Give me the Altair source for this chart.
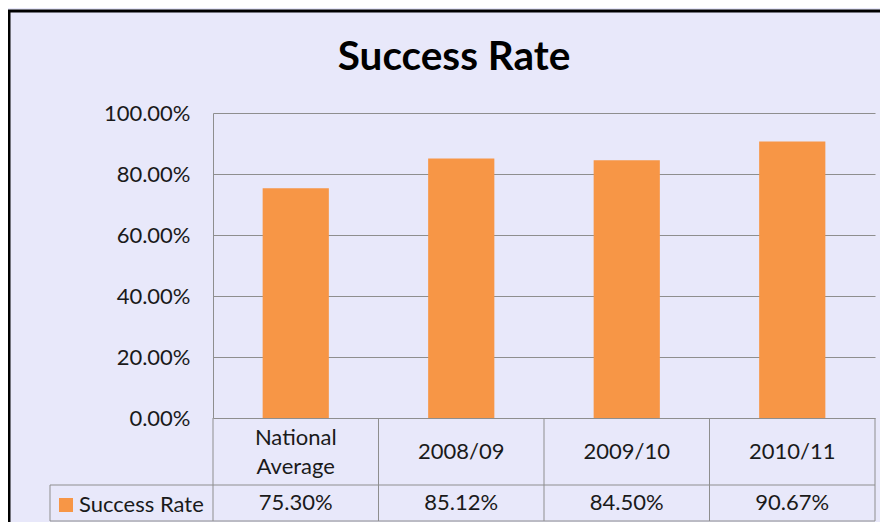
import altair as alt
import pandas as pd

# ---- data ----
categories = ["National\nAverage", "2008/09", "2009/10", "2010/11"]
success_rate = [0.7530, 0.8512, 0.8450, 0.9067]
series_name = "Success Rate"
y_ticks = [0.0, 0.2, 0.4, 0.6, 0.8, 1.0]
chart_title = "Success Rate"

df = pd.DataFrame({"category": categories, "value": success_rate, "series": series_name})
one = pd.DataFrame({"series": [series_name], "title": [chart_title]})

# ---- layout / style ----
W, H = 662, 305
HEADER_BOTTOM = H + 67
TABLE_BOTTOM = H + 103
LEFT_CELL = -163
BG = "#E8E8FA"
ORANGE = "#F79646"
GRID = "#8E8E8E"
FONT = "Lato"
FS = 22

x_scale = alt.Scale(domain=categories, paddingInner=0, paddingOuter=0)

x_enc = alt.X(
    "category:N", sort=categories, scale=x_scale,
    axis=alt.Axis(
        title=None, orient="bottom", ticks=False, domain=False, grid=False,
        labelExpr="split(datum.label, '\\n')", labelAngle=0,
        labelBaseline={
            "condition": {"test": "indexof(datum.value, '\\n') >= 0", "value": "middle"},
            "value": "line-top",
        },
        labelPadding=19, labelFontSize=FS,
        labelFont=FONT, labelColor="#1a1a1a", labelLineHeight=29,
    ),
)
y_enc = alt.Y(
    "value:Q", scale=alt.Scale(domain=[0, 1]),
    axis=alt.Axis(
        title=None, values=y_ticks, format=".2%", grid=True, gridColor=GRID,
        gridWidth=1, domain=True, domainColor=GRID, ticks=False,
        labelPadding=23, labelFontSize=FS, labelFont=FONT, labelColor="#1a1a1a",
    ),
)

bars = alt.Chart(df).mark_bar(width=alt.RelativeBandSize(0.4), color=ORANGE).encode(
    x=x_enc, y=y_enc,
    color=alt.Color(
        "series:N", scale=alt.Scale(range=[ORANGE]),
        legend=alt.Legend(
            title=None, orient="none", legendX=-158, legendY=H + 76,
            symbolType="square", symbolSize=196, symbolStrokeWidth=0,
            symbolFillColor=ORANGE, labelFontSize=FS, labelFont=FONT,
            labelColor="#1a1a1a", labelOffset=2,
        ),
    ),
)

values_row = alt.Chart(df).mark_text(font=FONT, fontSize=FS, color="#1a1a1a", baseline="middle").encode(
    x=alt.X("category:N", sort=categories, scale=x_scale, bandPosition=0.5),
    y=alt.value((HEADER_BOTTOM + TABLE_BOTTOM) / 2),
    text=alt.Text("value:Q", format=".2%"),
)

edges_left = alt.Chart(df).mark_rule(color=GRID, strokeWidth=1).encode(
    x=alt.X("category:N", sort=categories, scale=x_scale, bandPosition=0),
    y=alt.value(H), y2=alt.value(TABLE_BOTTOM),
)
edge_right = alt.Chart(df.tail(1)).mark_rule(color=GRID, strokeWidth=1).encode(
    x=alt.X("category:N", sort=categories, scale=x_scale, bandPosition=1),
    y=alt.value(H), y2=alt.value(TABLE_BOTTOM),
)
h_mid = alt.Chart(one).mark_rule(color=GRID, strokeWidth=1).encode(
    x=alt.value(LEFT_CELL), x2=alt.value(W), y=alt.value(HEADER_BOTTOM),
)
h_bottom = alt.Chart(one).mark_rule(color=GRID, strokeWidth=1).encode(
    x=alt.value(LEFT_CELL), x2=alt.value(W), y=alt.value(TABLE_BOTTOM),
)
v_left = alt.Chart(one).mark_rule(color=GRID, strokeWidth=1).encode(
    x=alt.value(LEFT_CELL), y=alt.value(HEADER_BOTTOM), y2=alt.value(TABLE_BOTTOM),
)
frame = alt.Chart(one).mark_rect(filled=False, stroke="black", strokeWidth=3).encode(
    x=alt.value(-204), x2=alt.value(W + 60), y=alt.value(-102), y2=alt.value(H + 200),
)
title = alt.Chart(one).mark_text(
    font=FONT, fontSize=40.5, fontWeight="bold", color="black",
    align="center", baseline="alphabetic",
).encode(
    x=alt.value(241), y=alt.value(-43), text="title:N",
)

chart = alt.layer(
    bars, values_row, edges_left, edge_right, h_mid, h_bottom, v_left, frame, title
).properties(
    width=W, height=H,
    autosize=alt.AutoSizeParams(type="none"),
    padding={"left": 205, "top": 105, "right": 5, "bottom": 104},
    background=BG,
).configure_view(stroke="transparent")

chart.save("out.html", embed_options={"renderer": "svg", "actions": False})
